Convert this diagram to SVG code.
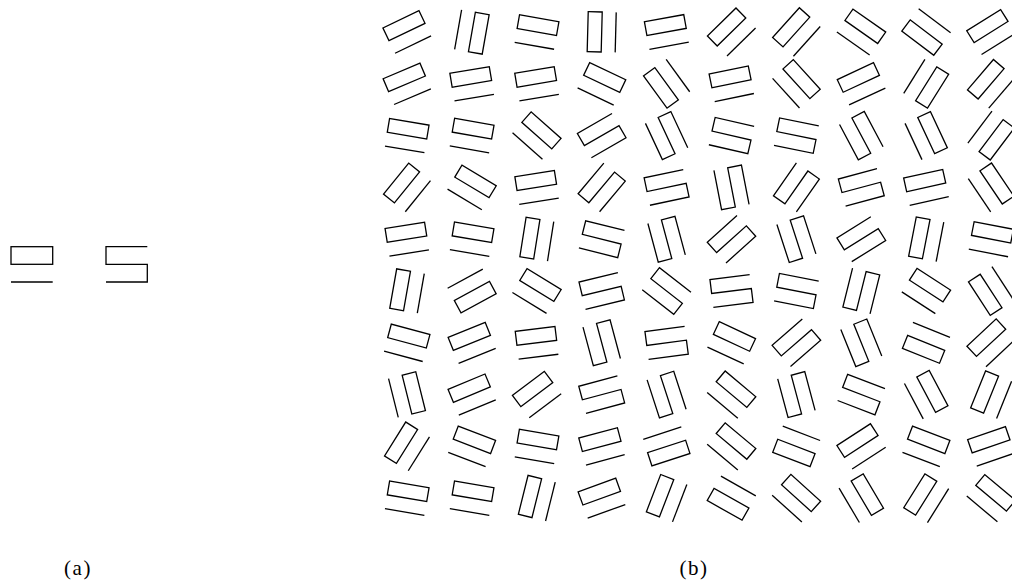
<svg xmlns="http://www.w3.org/2000/svg" xmlns:xlink="http://www.w3.org/1999/xlink" width="1012" height="583" viewBox="0 0 1012 583">
<style>
.g{fill:none;stroke:#000;stroke-width:1.3;stroke-linejoin:miter}
.lab{font-family:"Liberation Serif","DejaVu Serif",serif;font-size:21px;fill:#000;letter-spacing:1.5px}
</style>
<defs>
<g id="R" class="g"><rect x="-20" y="-14" width="40" height="14"/><line x1="-20" y1="14" x2="20" y2="14"/></g>
<path id="S" class="g" d="M20,-14H-20V0H20V14H-20"/>
</defs>
<rect width="1012" height="583" fill="#fff"/>
<g id="panel-a">
<g id="a-rect" class="g"><rect x="11" y="246.7" width="41.7" height="17.6"/><line x1="11" y1="282" x2="52.7" y2="282"/></g>
<path id="a-s" class="g" d="M147.3,246.7H106V264.3H147.3V282H106"/>
</g>
<g id="panel-b">
<g id="row1">
<use xlink:href="#R" transform="translate(407,32) rotate(-25.7)"/>
<use xlink:href="#R" transform="translate(471.9,32) rotate(100)"/>
<use xlink:href="#R" transform="translate(536.8,32) rotate(10)"/>
<use xlink:href="#R" transform="translate(601.7,32) rotate(-88.5)"/>
<use xlink:href="#R" transform="translate(666.6,32) rotate(-10.4)"/>
<use xlink:href="#R" transform="translate(731.5,32) rotate(-44.4)"/>
<use xlink:href="#R" transform="translate(796.4,32) rotate(-48)"/>
<use xlink:href="#R" transform="translate(861.3,32) rotate(35)"/>
<use xlink:href="#R" transform="translate(926.2,32) rotate(-143)"/>
<use xlink:href="#R" transform="translate(991.1,32) rotate(-32)"/>
</g>
<g id="row2">
<use xlink:href="#R" transform="translate(407,83.8) rotate(-23)"/>
<use xlink:href="#R" transform="translate(471.9,83.8) rotate(-9.6)"/>
<use xlink:href="#R" transform="translate(536.8,83.8) rotate(-9.6)"/>
<use xlink:href="#R" transform="translate(601.7,83.8) rotate(25.5)"/>
<use xlink:href="#R" transform="translate(666.6,83.8) rotate(-126)"/>
<use xlink:href="#R" transform="translate(731.5,83.8) rotate(-11.6)"/>
<use xlink:href="#R" transform="translate(796.4,83.8) rotate(47.7)"/>
<use xlink:href="#R" transform="translate(861.3,83.8) rotate(-25)"/>
<use xlink:href="#R" transform="translate(926.2,83.8) rotate(122)"/>
<use xlink:href="#R" transform="translate(991.1,83.8) rotate(-49.5)"/>
</g>
<g id="row3">
<use xlink:href="#R" transform="translate(407,135.6) rotate(9.5)"/>
<use xlink:href="#R" transform="translate(471.9,135.6) rotate(10)"/>
<use xlink:href="#R" transform="translate(536.8,135.6) rotate(41.6)"/>
<use xlink:href="#S" transform="translate(601.7,135.6) rotate(-30)"/>
<use xlink:href="#S" transform="translate(666.6,135.6) rotate(65)"/>
<use xlink:href="#S" transform="translate(731.5,135.6) rotate(13)"/>
<use xlink:href="#S" transform="translate(796.4,135.6) rotate(11.5)"/>
<use xlink:href="#S" transform="translate(861.3,135.6) rotate(62)"/>
<use xlink:href="#R" transform="translate(926.2,135.6) rotate(65)"/>
<use xlink:href="#R" transform="translate(991.1,135.6) rotate(127)"/>
</g>
<g id="row4">
<use xlink:href="#R" transform="translate(407,187.4) rotate(-51)"/>
<use xlink:href="#R" transform="translate(471.9,187.4) rotate(31)"/>
<use xlink:href="#R" transform="translate(536.8,187.4) rotate(-9)"/>
<use xlink:href="#S" transform="translate(601.7,187.4) rotate(-50)"/>
<use xlink:href="#S" transform="translate(666.6,187.4) rotate(-12)"/>
<use xlink:href="#S" transform="translate(731.5,187.4) rotate(79)"/>
<use xlink:href="#S" transform="translate(796.4,187.4) rotate(-55)"/>
<use xlink:href="#S" transform="translate(861.3,187.4) rotate(-15)"/>
<use xlink:href="#R" transform="translate(926.2,187.4) rotate(-12.5)"/>
<use xlink:href="#R" transform="translate(991.1,187.4) rotate(56)"/>
</g>
<g id="row5">
<use xlink:href="#R" transform="translate(407,239.2) rotate(-9)"/>
<use xlink:href="#R" transform="translate(471.9,239.2) rotate(9.5)"/>
<use xlink:href="#R" transform="translate(536.8,239.2) rotate(-81)"/>
<use xlink:href="#S" transform="translate(601.7,239.2) rotate(14)"/>
<use xlink:href="#S" transform="translate(666.6,239.2) rotate(75)"/>
<use xlink:href="#S" transform="translate(731.5,239.2) rotate(-42)"/>
<use xlink:href="#S" transform="translate(796.4,239.2) rotate(72)"/>
<use xlink:href="#S" transform="translate(861.3,239.2) rotate(-32)"/>
<use xlink:href="#R" transform="translate(926.2,239.2) rotate(-79)"/>
<use xlink:href="#R" transform="translate(991.1,239.2) rotate(11)"/>
</g>
<g id="row6">
<use xlink:href="#R" transform="translate(407,291) rotate(-80)"/>
<use xlink:href="#R" transform="translate(471.9,291) rotate(151.5)"/>
<use xlink:href="#R" transform="translate(536.8,291) rotate(31.5)"/>
<use xlink:href="#S" transform="translate(601.7,291) rotate(-13.5)"/>
<use xlink:href="#S" transform="translate(666.6,291) rotate(38)"/>
<use xlink:href="#S" transform="translate(731.5,291) rotate(-7)"/>
<use xlink:href="#S" transform="translate(796.4,291) rotate(11)"/>
<use xlink:href="#S" transform="translate(861.3,291) rotate(104)"/>
<use xlink:href="#R" transform="translate(926.2,291) rotate(33)"/>
<use xlink:href="#R" transform="translate(991.1,291) rotate(-123)"/>
</g>
<g id="row7">
<use xlink:href="#R" transform="translate(407,342.8) rotate(15)"/>
<use xlink:href="#R" transform="translate(471.9,342.8) rotate(-22)"/>
<use xlink:href="#R" transform="translate(536.8,342.8) rotate(-7)"/>
<use xlink:href="#S" transform="translate(601.7,342.8) rotate(75)"/>
<use xlink:href="#S" transform="translate(666.6,342.8) rotate(-7.5)"/>
<use xlink:href="#R" transform="translate(731.5,342.8) rotate(25)"/>
<use xlink:href="#S" transform="translate(796.4,342.8) rotate(-41)"/>
<use xlink:href="#S" transform="translate(861.3,342.8) rotate(68)"/>
<use xlink:href="#R" transform="translate(926.2,342.8) rotate(-158)"/>
<use xlink:href="#R" transform="translate(991.1,342.8) rotate(-43)"/>
</g>
<g id="row8">
<use xlink:href="#R" transform="translate(407,394.6) rotate(76)"/>
<use xlink:href="#R" transform="translate(471.9,394.6) rotate(-22.6)"/>
<use xlink:href="#R" transform="translate(536.8,394.6) rotate(-37)"/>
<use xlink:href="#S" transform="translate(601.7,394.6) rotate(-15)"/>
<use xlink:href="#S" transform="translate(666.6,394.6) rotate(72)"/>
<use xlink:href="#R" transform="translate(731.5,394.6) rotate(40)"/>
<use xlink:href="#S" transform="translate(796.4,394.6) rotate(75)"/>
<use xlink:href="#S" transform="translate(861.3,394.6) rotate(21)"/>
<use xlink:href="#R" transform="translate(926.2,394.6) rotate(62)"/>
<use xlink:href="#R" transform="translate(991.1,394.6) rotate(-68)"/>
</g>
<g id="row9">
<use xlink:href="#R" transform="translate(407,446.4) rotate(-58)"/>
<use xlink:href="#R" transform="translate(471.9,446.4) rotate(21)"/>
<use xlink:href="#R" transform="translate(536.8,446.4) rotate(9.6)"/>
<use xlink:href="#R" transform="translate(601.7,446.4) rotate(-15)"/>
<use xlink:href="#R" transform="translate(666.6,446.4) rotate(162)"/>
<use xlink:href="#R" transform="translate(731.5,446.4) rotate(40)"/>
<use xlink:href="#R" transform="translate(796.4,446.4) rotate(-159)"/>
<use xlink:href="#R" transform="translate(861.3,446.4) rotate(-33)"/>
<use xlink:href="#R" transform="translate(926.2,446.4) rotate(21)"/>
<use xlink:href="#R" transform="translate(991.1,446.4) rotate(-19)"/>
</g>
<g id="row10">
<use xlink:href="#R" transform="translate(407,498.2) rotate(9.6)"/>
<use xlink:href="#R" transform="translate(471.9,498.2) rotate(9.6)"/>
<use xlink:href="#R" transform="translate(536.8,498.2) rotate(-76)"/>
<use xlink:href="#R" transform="translate(601.7,498.2) rotate(-20)"/>
<use xlink:href="#R" transform="translate(666.6,498.2) rotate(-69)"/>
<use xlink:href="#R" transform="translate(731.5,498.2) rotate(-150.6)"/>
<use xlink:href="#R" transform="translate(796.4,498.2) rotate(42)"/>
<use xlink:href="#R" transform="translate(861.3,498.2) rotate(59.5)"/>
<use xlink:href="#R" transform="translate(926.2,498.2) rotate(-58)"/>
<use xlink:href="#R" transform="translate(991.1,498.2) rotate(40)"/>
</g>
</g>
<g id="labels">
<text class="lab" x="78" y="575" text-anchor="middle">(a)</text>
<text class="lab" x="694" y="575" text-anchor="middle">(b)</text>
</g>
</svg>
